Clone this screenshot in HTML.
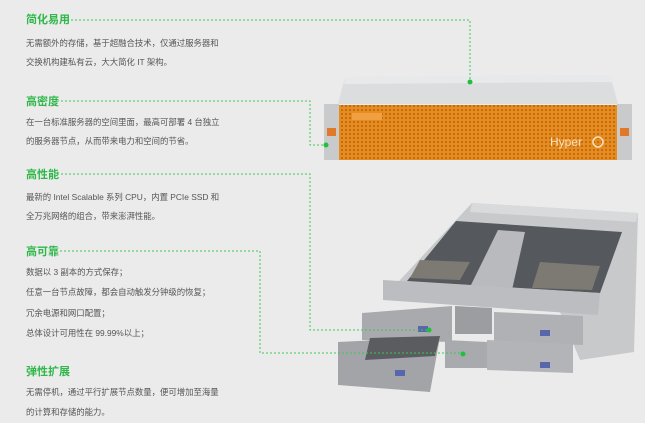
<!DOCTYPE html>
<html><head><meta charset="utf-8"><style>
body{margin:0;width:645px;height:423px;background:#ebebeb;overflow:hidden;position:relative;font-family:"Liberation Sans","Noto Sans CJK SC",sans-serif}
.h{position:absolute;left:26px;color:#2fb84a;font-weight:bold;font-size:11px;line-height:12px}
.t{position:absolute;left:26px;color:#555;font-size:8.4px;line-height:10px;white-space:nowrap}
svg{position:absolute;left:0;top:0}
</style></head><body>
<svg width="645" height="423">
<polygon points="345,77 610,75 618,104 338,104" fill="#dcdddf"/>
<polygon points="345,77 610,75 612,82 344,84" fill="#e8e9eb"/>
<rect x="324" y="104" width="15" height="56" fill="#c9cacc"/>
<rect x="617" y="104" width="15" height="56" fill="#c9cacc"/>
<rect x="327" y="128" width="9" height="8" fill="#e07a2a"/>
<rect x="620" y="128" width="9" height="8" fill="#e07a2a"/>
<rect x="339" y="105" width="278" height="55" fill="#e88c1e"/>
<defs><pattern id="p" width="4" height="4" patternUnits="userSpaceOnUse"><circle cx="2" cy="2" r="1.1" fill="#9a5210"/></pattern></defs>
<rect x="339" y="105" width="278" height="55" fill="url(#p)" opacity="0.6"/>
<rect x="352" y="113" width="30" height="7" fill="#f0a040"/>
<text x="550" y="146" font-family="Liberation Sans" font-size="12" fill="#fbe2bf">Hyper</text>
<circle cx="598" cy="142" r="5" fill="none" stroke="#fbe2bf" stroke-width="1.5"/>
<polygon points="472,203 638,213 634,352 580,360 560,312 383,298 400,280" fill="#c8c9cb"/>
<polygon points="472,203 638,213 636,222 470,212" fill="#d9dadc"/>
<polygon points="456,221 622,232 600,293 407,281" fill="#55585c"/>
<polygon points="498,230 525,232 512,290 470,287" fill="#b9babd"/>
<polygon points="420,260 470,262 460,280 410,278" fill="#7d7a74"/>
<polygon points="540,262 600,266 592,290 532,288" fill="#7d7a74"/>
<polygon points="383,280 600,293 598,315 383,300" fill="#bcbdc0"/>
<polygon points="362,313 452,306 452,342 362,340" fill="#a9aaad"/>
<polygon points="494,312 583,316 583,345 494,342" fill="#b0b1b4"/>
<polygon points="455,306 492,308 492,334 455,334" fill="#9c9da0"/>
<polygon points="338,342 440,337 430,392 338,385" fill="#a3a4a7"/>
<polygon points="370,338 440,336 435,356 365,360" fill="#5a5c60"/>
<polygon points="445,340 487,342 487,368 445,368" fill="#a9aaad"/>
<polygon points="487,340 573,344 573,373 487,370" fill="#b3b4b7"/>
<rect x="395" y="370" width="10" height="6" fill="#5a66aa"/>
<rect x="418" y="326" width="10" height="6" fill="#5a66aa"/>
<rect x="540" y="330" width="10" height="6" fill="#5a66aa"/>
<rect x="540" y="362" width="10" height="6" fill="#5a66aa"/>
<g fill="none" stroke="#3cc45a" stroke-width="1" stroke-dasharray="2,2">
<polyline points="67,20 470,20 470,82"/>
<polyline points="57,101 310,101 310,145 326,145"/>
<polyline points="57,174 310,174 310,330 429,330"/>
<polyline points="60,251 260,251 260,353 463,353"/>
</g>
<g fill="#1fc03e">
<circle cx="470" cy="82" r="2.5"/><circle cx="326" cy="145" r="2.5"/>
<circle cx="429" cy="330" r="2.5"/><circle cx="463" cy="354" r="2.5"/>
</g>
</svg>
<div class="h" style="top:14px">简化易用</div>
<div class="t" style="top:38px">无需额外的存储，基于超融合技术，仅通过服务器和</div>
<div class="t" style="top:57px">交换机构建私有云，大大简化 IT 架构。</div>
<div class="h" style="top:96px">高密度</div>
<div class="t" style="top:117px">在一台标准服务器的空间里面，最高可部署 4 台独立</div>
<div class="t" style="top:136px">的服务器节点，从而带来电力和空间的节省。</div>
<div class="h" style="top:169px">高性能</div>
<div class="t" style="top:192px">最新的 Intel Scalable 系列 CPU，内置 PCIe SSD 和</div>
<div class="t" style="top:211px">全万兆网络的组合，带来澎湃性能。</div>
<div class="h" style="top:246px">高可靠</div>
<div class="t" style="top:267px">数据以 3 副本的方式保存；</div>
<div class="t" style="top:287px">任意一台节点故障，都会自动触发分钟级的恢复；</div>
<div class="t" style="top:308px">冗余电源和网口配置；</div>
<div class="t" style="top:328px">总体设计可用性在 99.99%以上；</div>
<div class="h" style="top:366px">弹性扩展</div>
<div class="t" style="top:387px">无需停机，通过平行扩展节点数量，便可增加至海量</div>
<div class="t" style="top:407px">的计算和存储的能力。</div>
</body></html>
